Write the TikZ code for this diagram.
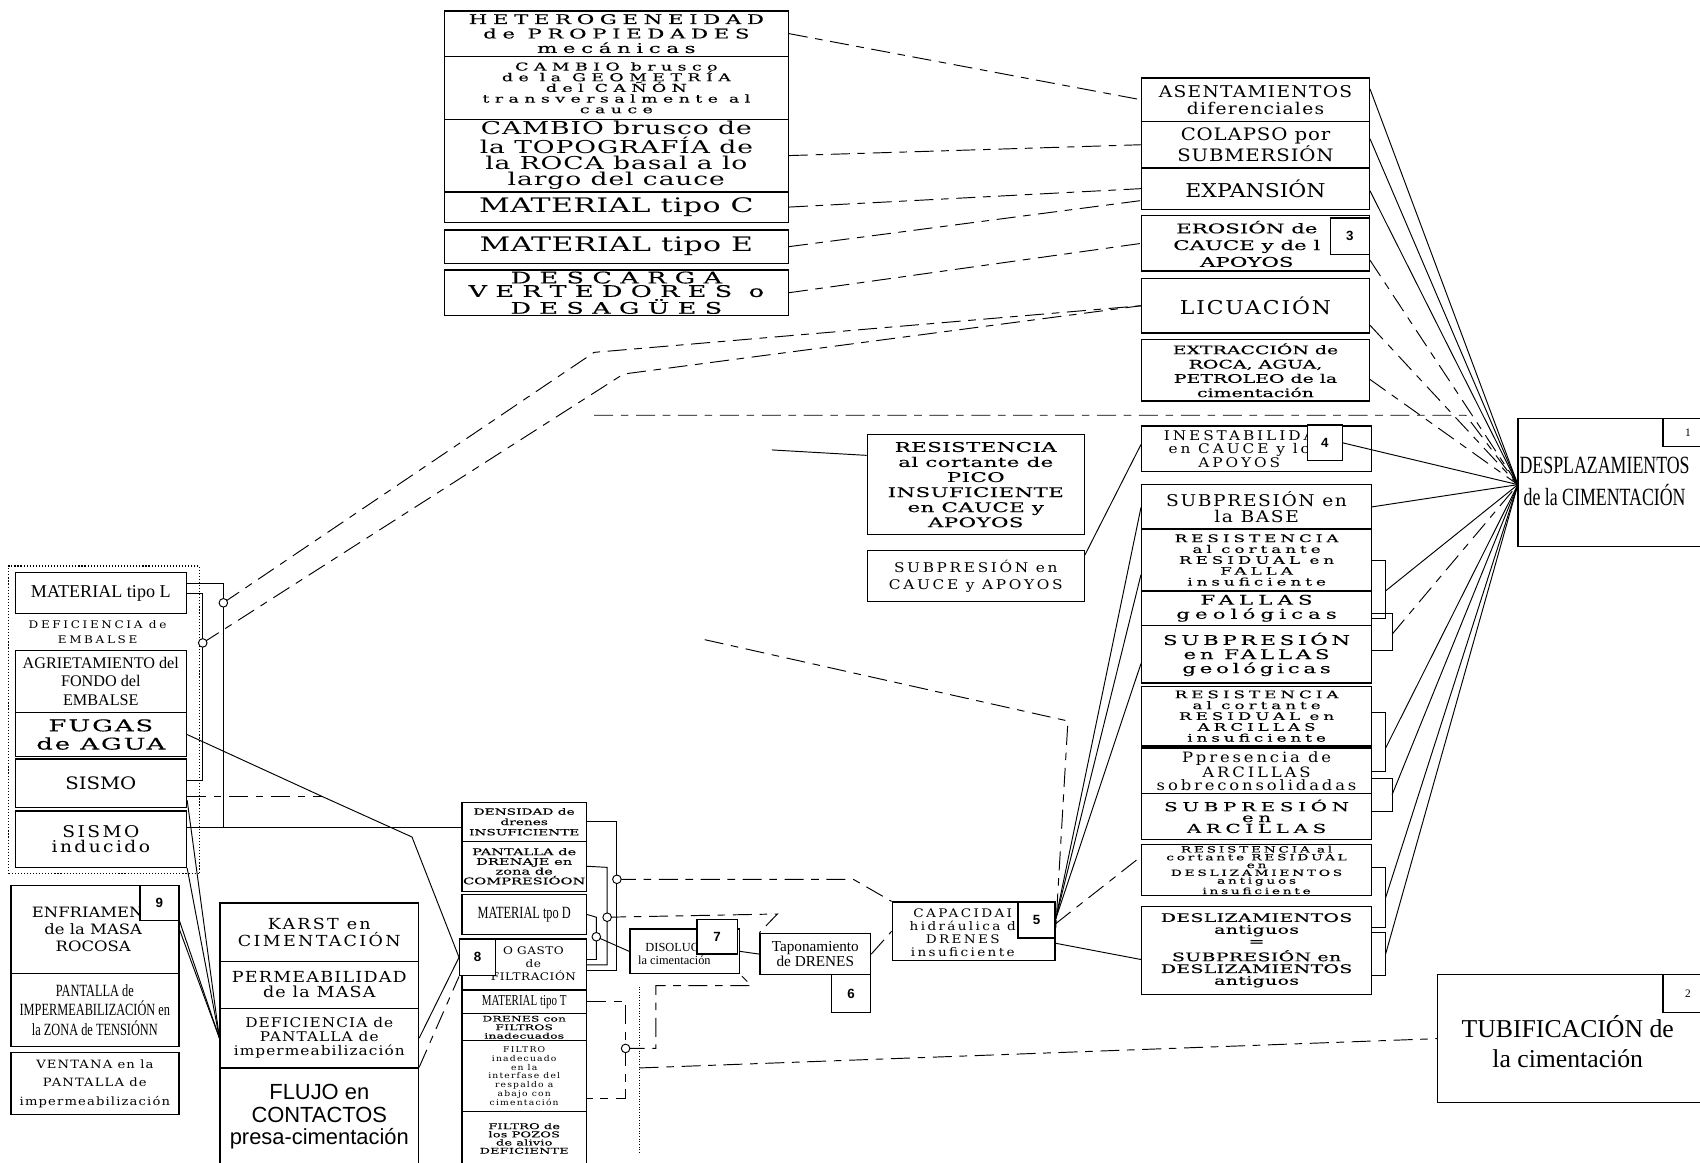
\documentclass[tikz,border=0pt]{standalone}
\usepackage{fontspec}
\setmainfont{Liberation Serif}
\newfontfamily\wdA[FakeStretch=1.15]{DejaVu Serif}
\newfontfamily\wdB[FakeStretch=1.6,FakeBold=0.25]{DejaVu Serif}
\newfontfamily\wdC[FakeStretch=1.5]{DejaVu Serif}
\newfontfamily\cnd[FakeStretch=0.72]{Liberation Serif}
\newfontfamily\snf{Liberation Sans}
\usetikzlibrary{calc}
% wide lettering: size, baselineskip, letter space
\newcommand{\fw}[3]{\fontsize{#1}{#2}\wdA\addfontfeatures{LetterSpace=#3}}
\newcommand{\fx}[3]{\fontsize{#1}{#2}\wdB\addfontfeatures{LetterSpace=#3}}
\newcommand{\fy}[3]{\fontsize{#1}{#2}\wdC\addfontfeatures{LetterSpace=#3}}

\begin{document}
\begin{tikzpicture}[x=0.02cm, y=-0.02cm,
  bx/.style={draw, line width=0.7pt, inner sep=0pt, align=center},
  bb/.style n args={4}{minimum width={(#3-#1)*0.02cm}, minimum height={(#4-#2)*0.02cm}, at={({(#1+#3)/2},{(#2+#4)/2})}},
  tag/.style={draw, fill=white, line width=0.7pt, inner sep=0pt, font=\snf\bfseries\fontsize{7}{8}\selectfont},
  lbl/.style={inner sep=0pt, align=center},
  ln/.style={line width=0.5pt},
  dln/.style={line width=0.5pt, dash pattern=on 10pt off 4pt on 4pt off 4pt},
  jn/.style={circle, draw, fill=white, line width=0.5pt, inner sep=0pt, minimum size=4.5pt},
]
\useasboundingbox (0,0) rectangle (1568,1072);

% top left block
\node[bx, bb={410}{10}{727}{52}, font=\fx{7}{7.6}{42}] (hetero) {HETEROGENEIDAD\\de PROPIEDADES\\mecánicas};
\node[bx, bb={410}{52}{727}{110}, font=\fx{5.7}{5.6}{50}] (geom) {CAMBIO brusco\\de la GEOMETRÍA\\del CAÑÓN\\transversalmente al\\cauce};
\node[bx, bb={410}{110}{727}{177}, font=\fy{9.3}{8.5}{5}] (topo) {CAMBIO brusco de\\la TOPOGRAFÍA de\\la ROCA basal a lo\\largo del cauce};
\node[bx, bb={410}{177}{727}{205}, font=\fy{10.5}{12}{2}] (matC) {MATERIAL tipo C};
\node[bx, bb={410}{212}{727}{243}, font=\fy{10.5}{12}{2}] (matE) {MATERIAL tipo E};
\node[bx, bb={410}{249}{727}{291}, font=\fx{8.4}{7.1}{52}] (desc) {DESCARGA\\VERTEDORES o\\DESAGÜES};

% right column
\node[bx, bb={1053}{72}{1263}{112}, font=\fw{8.5}{9}{8}] (asent) {ASENTAMIENTOS\\diferenciales};
\node[bx, bb={1053}{112}{1263}{155}, font=\fw{9}{9.6}{5}] (colap) {COLAPSO por\\SUBMERSIÓN};
\node[bx, bb={1053}{155}{1263}{193}, font=\fw{10}{11}{0}] (expan) {EXPANSIÓN};
\node[bx, bb={1053}{199}{1263}{250}] (eros) {};
\node[lbl, font=\fx{7}{8.8}{0}] (erosT) at (1150,225) {EROSIÓN de\\CAUCE y de l\\APOYOS};
\node[tag, bb={1227}{201}{1263}{235}] (t3) {3};
\node[bx, bb={1053}{257}{1263}{307}, font=\fw{10}{11}{10}] (licu) {LICUACIÓN};
\node[bx, bb={1053}{313}{1263}{370}, font=\fx{6.2}{7.5}{0}] (extr) {EXTRACCIÓN de\\ROCA, AGUA,\\PETROLEO de la\\cimentación};
\node[bx, bb={1053}{393}{1265}{435}] (inest) {};
\node[lbl, font=\fw{7}{7.1}{22}] (inestT) at (1143,414) {INESTABILIDA\\en CAUCE y lo\\APOYOS};
\node[tag, bb={1206}{392}{1238}{425}] (t4) {4};
\node[bx, bb={1053}{447}{1265}{488}, font=\fw{8.5}{8.5}{10}] (sbase) {SUBPRESIÓN en\\la BASE};
\node[bx, bb={1053}{488}{1265}{545}, font=\fx{5.5}{5.7}{38}] (rfalla) {RESISTENCIA\\al cortante\\RESIDUAL en\\FALLA\\insuficiente};
\node[bx, bb={1053}{545}{1265}{577}, font=\fx{7}{7.4}{38}] (fallas) {FALLAS\\geológicas};
\node[bx, bb={1053}{577}{1265}{630}, font=\fx{7}{7.4}{28}] (sfallas) {SUBPRESIÓN\\en FALLAS\\geológicas};
\node[bx, bb={1053}{633}{1265}{688}, font=\fx{5.5}{5.7}{38}] (rarc) {RESISTENCIA\\al cortante\\RESIDUAL en\\ARCILLAS\\insuficiente};
\node[bx, bb={1053}{690}{1265}{732}, font=\fw{7.5}{6.5}{20}] (ppres) {Ppresencia de\\ARCILLAS\\sobreconsolidadas};
\node[bx, bb={1053}{732}{1265}{774}, font=\fx{6.5}{5.7}{38}] (sarc) {SUBPRESIÓN\\en\\ARCILLAS};
\node[bx, bb={1053}{779}{1265}{826}, font=\fx{4.5}{4.1}{32}] (rdesl) {RESISTENCIA al\\cortante RESIDUAL\\en\\DESLIZAMIENTOS\\antiguos\\insuficiente};
\node[bx, bb={1053}{836}{1265}{917}, font=\fx{6.2}{6.2}{3}] (desl) {DESLIZAMIENTOS\\antiguos\\=\\[2pt]SUBPRESIÓN en\\DESLIZAMIENTOS\\antiguos};

% middle
\node[bx, bb={800}{401}{1000}{493}, font=\fx{7}{7.9}{3}] (rpico) {RESISTENCIA\\al cortante de\\PICO\\INSUFICIENTE\\en CAUCE y\\APOYOS};
\node[bx, bb={800}{508}{1000}{555}, font=\fw{7}{8.5}{20}] (scauce) {SUBPRESIÓN en\\CAUCE y APOYOS};

% results
\node[bx, bb={1400}{386}{1580}{504}] (desp) {};
\node[lbl, font=\fontsize{13}{16.4}\cnd] (despT) at (1480,444) {DESPLAZAMIENTOS\\de la CIMENTACIÓN};
\node[tag, bb={1534}{386}{1580}{412}, font=\rmfamily\fontsize{6}{7}\selectfont] (t1) {1};
\node[bx, bb={1326}{899}{1580}{1017}] (tubi) {};
\node[tag, bb={1534}{899}{1580}{934}, font=\rmfamily\fontsize{6}{7}\selectfont] (t2) {2};
\node[lbl, font=\fontsize{13.5}{15.9}\rmfamily] (tubiT) at (1446,961) {TUBIFICACIÓN de\\la cimentación};

% left group
\node[draw, densely dotted, line width=0.6pt, bb={8}{522}{184}{806}] (lgrp) {};
\node[bx, bb={14}{528}{172}{566}, font=\fontsize{9.5}{11}\selectfont] (matL) {MATERIAL tipo L};
\node[lbl, font=\fw{5.5}{7.4}{25}] (defemb) at (90,583) {DEFICIENCIA de\\EMBALSE};
\node[bx, bb={14}{600}{172}{657}, font=\fontsize{8.5}{9.6}\selectfont] (agri) {AGRIETAMIENTO del\\FONDO del\\EMBALSE};
\node[bx, bb={14}{657}{172}{698}, font=\fx{8.5}{9.6}{12}] (fugas) {FUGAS\\de AGUA};
\node[bx, bb={14}{700}{172}{745}, font=\fw{9}{10}{0}] (sismo) {SISMO};
\node[bx, bb={14}{748}{172}{800}, font=\fw{8.5}{7.9}{15}] (sind) {SISMO\\inducido};
\node[bx, bb={10}{817}{165}{898}] (enfr) {};
\node[lbl, font=\fw{7.5}{9}{0}] (enfrT) at (86,857) {ENFRIAMENT\\de la MASA\\ROCOSA};
\node[tag, bb={129}{817}{165}{849}] (t9) {9};
\node[bx, bb={10}{898}{165}{965}, font=\fontsize{9}{10.2}\cnd] (pimp) {PANTALLA de\\IMPERMEABILIZACIÓN en\\la ZONA de TENSIÓNN};
\node[bx, bb={10}{971}{165}{1028}, font=\fw{6}{9.6}{10}] (vent) {VENTANA en la\\PANTALLA de\\impermeabilización};

% karst group
\node[bx, bb={203}{833}{386}{887}, font=\fw{8}{8.5}{15}] (karst) {KARST en\\CIMENTACIÓN};
\node[bx, bb={203}{887}{386}{930}, font=\fw{8}{7.9}{8}] (perm) {PERMEABILIDAD\\de la MASA};
\node[bx, bb={203}{930}{386}{985}, font=\fw{7}{7.4}{8}] (defp) {DEFICIENCIA de\\PANTALLA de\\impermeabilización};
\node[bx, bb={203}{985}{386}{1075}, font=\snf\fontsize{11.5}{11.9}\selectfont] (flujo) {FLUJO en\\CONTACTOS\\presa-cimentación};

% drains column
\node[bx, bb={426}{740}{541}{776}, font=\fx{4.5}{5.4}{0}] (dens) {DENSIDAD de\\drenes\\INSUFICIENTE};
\node[bx, bb={426}{776}{541}{822}, font=\fx{4.8}{5.1}{0}] (pdren) {PANTALLA de\\DRENAJE en\\zona de\\COMPRESIÓON};
\node[bx, bb={426}{825}{541}{862}, font=\fontsize{9}{10}\cnd] (matD) {MATERIAL tpo D};
\node[bx, bb={426}{866}{541}{913}] (gasto) {};
\node[lbl, font=\fw{5.5}{6.8}{5}] (gastoT) at (492,889) {O GASTO\\de\\FILTRACIÓN};
\node[tag, bb={424}{866}{457}{900}] (t8) {8};
\node[bx, bb={426}{913}{541}{935}, font=\fontsize{8}{9}\cnd] (matT) {MATERIAL tipo T};
\node[bx, bb={426}{935}{541}{960}, font=\fx{4}{4.5}{3}] (dfil) {DRENES con\\FILTROS\\inadecuados};
\node[bx, bb={426}{960}{541}{1025}, font=\fw{4.2}{4.6}{15}] (finf) {FILTRO\\inadecuado\\en la\\interfase del\\respaldo a\\abajo con\\cimentación};
\node[bx, bb={426}{1025}{541}{1075}, font=\fx{4.2}{4.3}{3}] (fpoz) {FILTRO de\\los POZOS\\de alivio\\DEFICIENTE};

\node[bx, bb={581}{857}{682}{898}] (disol) {};
\node[lbl, font=\fontsize{6.5}{6.8}\selectfont] (disolT) at (622,880) {DISOLUCI\\la cimentación};
\node[tag, bb={643}{848}{680}{880}] (t7) {7};
\node[bx, bb={701}{861}{803}{899}, font=\fontsize{8}{6.8}\selectfont] (tapo) {Taponamiento\\de DRENES};
\node[tag, bb={767}{899}{803}{934}] (t6) {6};
\node[bx, bb={823}{832}{973}{886}] (capa) {};
\node[lbl, font=\fw{6.2}{6.8}{20}] (capaT) at (888,860) {CAPACIDAI\\hidráulica d\\DRENES\\insuficiente};
\node[tag, bb={939}{832}{973}{865}] (t5) {5};

% junctions and bends
\coordinate (hub) at (1400,447);
\coordinate (c1) at (206,556);
\coordinate (c2) at (187,593);
\coordinate (c3) at (569,811);
\coordinate (c4) at (560,846);
\coordinate (c5) at (550,864);
\coordinate (c6) at (577,967);
\coordinate (j1) at (298,735);
\coordinate (j2) at (380,772);
\coordinate (o1) at (548,325);
\coordinate (o2) at (575,345);
\coordinate (o3) at (548,383);
\coordinate (o4) at (712,415);
\coordinate (o5) at (650,590);
\coordinate (o6) at (590,985);

% into DESPLAZAMIENTOS
\draw[ln] (asent.east |- 0,82) -- (hub);
\draw[ln] (colap.east |- 0,128) -- (hub);
\draw[ln] (expan.east |- 0,176) -- (hub);
\draw[dln] (eros.east |- 0,240) -- (hub);
\draw[dln] (licu.east |- 0,300) -- (hub);
\draw[dln] (extr.east |- 0,350) -- (hub);
\draw[dln] (o3) -- (1352,383) -- (hub);
\draw[ln] (t4.east) -- (hub);
\draw[ln] (sbase.east) -- (hub);
\draw[ln] (rfalla.east |- 0,517) -- (1278,517) -- (1278,570) -- (fallas.east |- 0,570);
\draw[ln] (fallas.east |- 0,566) -- (1284,566) -- (1284,600) -- (sfallas.east |- 0,600);
\draw[ln] (rarc.east |- 0,657) -- (1278,657) -- (1278,712) -- (ppres.east |- 0,712);
\draw[ln] (ppres.east |- 0,718) -- (1284,718) -- (1284,748) -- (sarc.east |- 0,748);
\draw[ln] (rdesl.east |- 0,800) -- (1278,800) -- (1278,855) -- (desl.east |- 0,855);
\draw[ln] (desl.east |- 0,860) -- (1278,860) -- (1278,900) -- (desl.east |- 0,900);
\draw[ln] (1278,545) -- (hub);
\draw[dln] (1284,585) -- (hub);
\draw[ln] (1278,690) -- (hub);
\draw[ln] (1284,733) -- (hub);
\draw[ln] (1278,828) -- (hub);
\draw[ln] (1278,880) -- (hub);

% from the top left block
\draw[dln] (hetero.east) -- (asent.west);
\draw[dln] (topo.east) -- (colap.west);
\draw[dln] (matC.east) -- (expan.west);
\draw[dln] (matE.east) -- (expan.west |- 0,185);
\draw[dln] (desc.east) -- (eros.west);
\draw[dln] (c1) -- (o1) -- (licu.west);
\draw[dln] (c2) -- (o2) -- (licu.west);
\draw[ln] (o4) -- (rpico.west |- 0,420);
\draw[ln] (scauce.east |- 0,512) -- (inest.west |- 0,410);

% from CAPACIDAD
\draw[ln] (capa.east |- 0,848) -- (sbase.west |- 0,468);
\draw[ln] (capa.east |- 0,848) -- (rfalla.west |- 0,530);
\draw[ln] (capa.east |- 0,848) -- (sfallas.west |- 0,612);
\draw[dln] (capa.east |- 0,852) -- (rdesl.west |- 0,790);
\draw[ln] (capa.east |- 0,870) -- (desl.west |- 0,885);
\draw[dln] (o5) -- (985,665) -- (capa.east);

% left group
\draw[ln] (matL.east) -- (187,547) -- (187,720) -- (sismo.east |- 0,720);
\draw[ln] (matL.east |- 0,538) -- (206,538) -- (206,763);
\draw[ln] (fugas.east) -- (j1) -- (j2) -- (t8.west);
\draw[dln] (sismo.east |- 0,735) -- (j1);
\draw[ln] (sind.east |- 0,763) -- (dens.west |- 0,763);
\draw[ln] (sismo.east |- 0,738) -- (defp.west);
\draw[ln] (sind.south east) -- (defp.west);
\draw[ln] (t9.south east) -- (defp.west);
\draw[ln] (enfr.east) -- (defp.west);
\draw[ln] (defp.east) -- (t8.west);
\draw[dln] (flujo.north east) -- (t8.south west);

% drains
\draw[ln] (dens.east) -- (569,758) -- (569,895) -- (gasto.east |- 0,895);
\draw[ln] (pdren.east) -- (560,800) -- (560,890) -- (gasto.east |- 0,890);
\draw[ln] (matD.east) -- (550,846) -- (550,885) -- (gasto.east |- 0,885);
\draw[dln] (c3) -- (787,811) -- (capa.north west);
\draw[dln] (c4) -- (717,843) -- (tapo.north west);
\draw[ln] (c5) -- (disol.west);
\draw[dln] (matT.east) -- (577,924) -- (577,1013) -- (finf.east |- 0,1013);
\draw[dln] (c6) -- (605,967) -- (605,909) -- (693,909) -- (disol.south east);
\draw[densely dotted] (590,910) -- (590,1064);
\draw[ln] (disol.east) -- (tapo.west);
\draw[dln] (tapo.east) -- (capa.west);
\draw[dln] (o6) -- (tubi.west |- 0,958);

% junction marks
\foreach \c in {c1,c2,c3,c4,c5,c6}
  \node[jn] (\c m) at (\c) {};
\end{tikzpicture}
\end{document}
